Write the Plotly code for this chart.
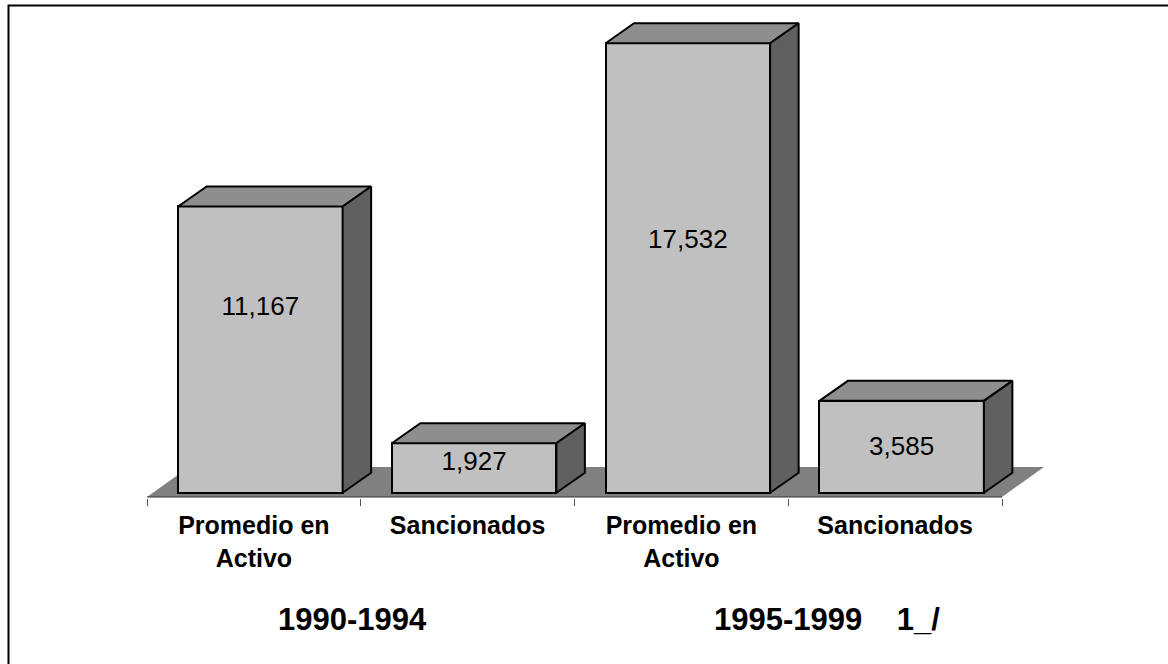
import plotly.graph_objects as go

# --- data ---
categories = ["<b>Promedio en<br>Activo</b>", "<b>Sancionados</b>",
              "<b>Promedio en<br>Activo</b>", "<b>Sancionados</b>"]
values = [11167, 1927, 17532, 3585]
value_labels = ["11,167", "1,927", "17,532", "3,585"]
label_heights = [7200, 1120, 9810, 1740]   # where each value label sits on the value axis
periods = ["1990-1994", "1995-1999\u00a0\u00a0\u00a0\u00a01_/"]
period_x = [0.463, 2.68]

# --- layout constants ---
W, H = 1168, 664
L, R, T, B = 147, 1002, 10, 498
RIGHT_EDGE = 1060      # plot area runs past the last tick so the 3-D floor and last bar fit
AXIS_PX = 497
PX_PER_UNIT_Y = 449.4 / 17532
PX_PER_CAT = (R - L) / 4
y_min = -(B - 492.7) / PX_PER_UNIT_Y
y_max = (492.7 - T) / PX_PER_UNIT_Y
x_min, x_max = -0.5, 3.5 + (RIGHT_EDGE - R) / PX_PER_CAT
axis_y = -(AXIS_PX - 492.7) / PX_PER_UNIT_Y

BAR_W = 164.5 / PX_PER_CAT
BAR_SHIFT = 6.5 / PX_PER_CAT
DX = 28.5 / PX_PER_CAT
DY = 20 / PX_PER_UNIT_Y
FLOOR_DX = 42 / PX_PER_CAT
FLOOR_DY = 30 / PX_PER_UNIT_Y
FRONT, TOP, SIDE, FLOOR = "#c0c0c0", "#8e8e8e", "#606060", "#808080"
EDGE = dict(color="#000000", width=2)
FONT = "Liberation Sans, Arial, sans-serif"

xs = [i + BAR_SHIFT for i in range(len(values))]

fig = go.Figure()
fig.add_trace(go.Bar(x=xs, y=values, width=BAR_W, marker=dict(color=FRONT, line=EDGE),
                     hoverinfo="skip", showlegend=False))

for x, v in zip(xs, values):
    xl, xr = x - BAR_W / 2, x + BAR_W / 2
    fig.add_trace(go.Scatter(x=[xl, xl + DX, xr + DX, xr, xl], y=[v, v + DY, v + DY, v, v],
                             mode="lines", fill="toself", fillcolor=TOP, line=EDGE,
                             hoverinfo="skip", showlegend=False))
    fig.add_trace(go.Scatter(x=[xr, xr + DX, xr + DX, xr, xr], y=[v, v + DY, DY, 0, v],
                             mode="lines", fill="toself", fillcolor=SIDE, line=EDGE,
                             hoverinfo="skip", showlegend=False))

fig.add_trace(go.Scatter(x=[-0.5, 3.5], y=[axis_y, axis_y], mode="lines",
                         line=dict(color="#333333", width=1),
                         hoverinfo="skip", showlegend=False))

fig.add_trace(go.Scatter(x=xs, y=label_heights, text=value_labels, mode="text",
                         textposition="middle center",
                         textfont=dict(family=FONT, size=26, color="#000000"),
                         hoverinfo="skip", showlegend=False))

fy = axis_y + FLOOR_DY
fig.add_shape(type="path", xref="x", yref="y", layer="below",
              path=f"M -0.5 {axis_y} L {-0.5 + FLOOR_DX} {fy} L {3.5 + FLOOR_DX} {fy} L 3.5 {axis_y} Z",
              fillcolor=FLOOR, line=dict(width=0))

plot_w, plot_h = RIGHT_EDGE - L, B - T
# outer frame, running off the right and bottom of the picture
fig.add_shape(type="rect", xref="paper", yref="paper", layer="below",
              x0=(8.5 - L) / plot_w, x1=(W + 40 - L) / plot_w,
              y0=-(H + 40 - B) / plot_h, y1=1 + (T - 5.5) / plot_h,
              line=dict(color="#000000", width=2), fillcolor="rgba(0,0,0,0)")

for x, txt in zip(period_x, periods):
    fig.add_annotation(x=x, y=(B - 619) / plot_h, xref="x", yref="paper", text=f"<b>{txt}</b>",
                       showarrow=False, font=dict(family=FONT, size=31, color="#000000"),
                       xanchor="center", yanchor="middle")

fig.update_layout(
    width=W, height=H, autosize=False,
    margin=dict(l=L, r=W - RIGHT_EDGE, t=T, b=H - B, pad=0),
    paper_bgcolor="#ffffff", plot_bgcolor="rgba(0,0,0,0)",
    bargap=0,
    xaxis=dict(range=[x_min, x_max], tickvals=list(range(4)), ticktext=categories,
               ticks="", showgrid=False, zeroline=False, showline=False,
               ticklabelstandoff=10, tickangle=0,
               tickfont=dict(family=FONT, size=25, color="#000000"),
               minor=dict(tickvals=[-0.5, 0.5, 1.5, 2.5, 3.5], ticks="outside", ticklen=7,
                          tickwidth=1, tickcolor="#555555", showgrid=False)),
    yaxis=dict(range=[y_min, y_max], visible=False, showgrid=False, zeroline=False),
    showlegend=False,
)

fig.write_html("out.html", config={"displayModeBar": False},
               post_script="document.body.style.margin='0';document.body.style.overflow='hidden';")
